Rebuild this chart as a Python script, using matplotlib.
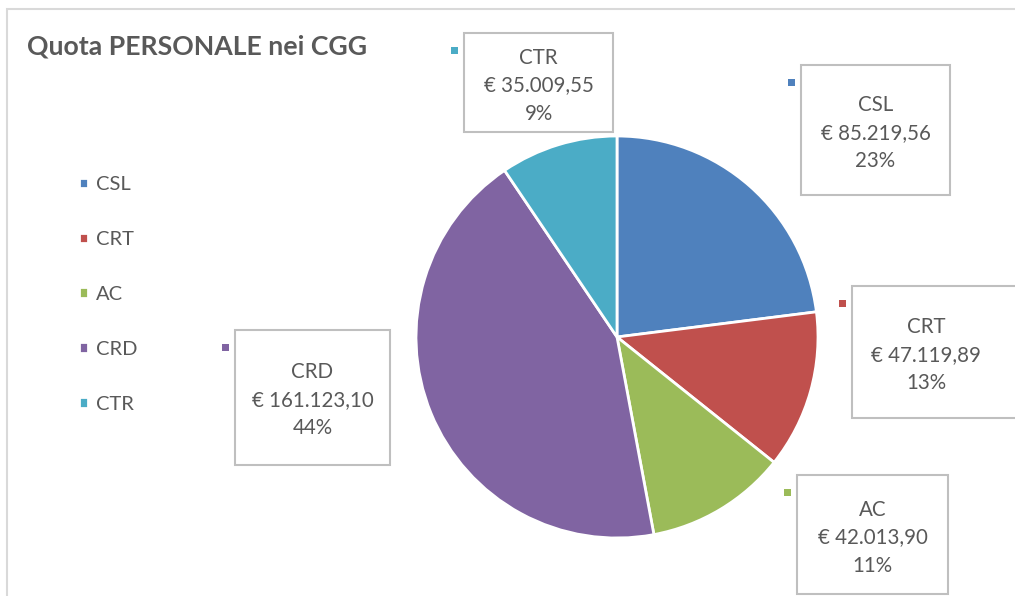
import matplotlib.pyplot as plt
from matplotlib.patches import Rectangle

# dati
categorie = ['CSL', 'CRT', 'AC', 'CRD', 'CTR']
valori = [85219.56, 47119.89, 42013.90, 161123.10, 35009.55]
colori = ['#4F81BD', '#C0504D', '#9BBB59', '#8064A2', '#4BACC6']
titolo = 'Quota PERSONALE nei CGG'

W, H = 1015, 596
GRIGIO = '#595959'
plt.rcParams['font.family'] = ['Lato', 'DejaVu Sans']


def fx(x):
    return x / W


def fy(y):
    return 1 - y / H


def euro(v):
    s = f'{v:,.2f}'.replace(',', 'X').replace('.', ',').replace('X', '.')
    return '€ ' + s


def percentuali(vals):
    # arrotondamento come Excel: la somma fa 100
    tot = sum(vals)
    raw = [v / tot * 100 for v in vals]
    base = [int(p) for p in raw]
    resto = 100 - sum(base)
    ordine = sorted(range(len(raw)), key=lambda i: raw[i] - base[i], reverse=True)
    for i in ordine[:resto]:
        base[i] += 1
    return base


fig = plt.figure(figsize=(W / 100, H / 100), dpi=100)

# cornice del grafico
fig.patches.append(Rectangle((fx(7), fy(700)), fx(1100), fy(9) - fy(700),
                             transform=fig.transFigure, fill=False,
                             edgecolor='#D9D9D9', linewidth=1.5))

fig.text(fx(27), fy(46), titolo, fontsize=19.2, fontweight='bold', color=GRIGIO,
         va='center', ha='left')

# torta: centro (617, 337), raggio 201 px
cx, cy, r = 617, 337, 201
ax = fig.add_axes([fx(cx - r), fy(cy + r), (2 * r) / W, (2 * r) / H])
wedges, _ = ax.pie(valori, colors=colori, startangle=90, counterclock=False,
                   wedgeprops=dict(edgecolor='white', linewidth=2))
ax.set_xlim(-1, 1)
ax.set_ylim(-1, 1)
ax.set_aspect('equal')
ax.axis('off')

# etichette con riquadro: (sinistra, alto, destra, basso) in px
riquadri = [(801, 65, 950, 195),
            (852, 286, 1000, 418),
            (797, 475, 948, 594),
            (235, 330, 390, 465),
            (464, 33, 613, 132)]
perc = percentuali(valori)
for nome, v, p, col, (x0, y0, x1, y1) in zip(categorie, valori, perc, colori, riquadri):
    larg = x1 - x0 if nome != 'CRT' else 200
    fig.patches.append(Rectangle((fx(x0), fy(y1)), larg / W, (y1 - y0) / H,
                                 transform=fig.transFigure, facecolor='white',
                                 edgecolor='#BFBFBF', linewidth=1.5, zorder=3))
    fig.patches.append(Rectangle((fx(x0 - 13), fy(y0 + 21)), 7 / W, 7 / H,
                                 transform=fig.transFigure, facecolor=col,
                                 edgecolor='none', zorder=3))
    testo = f'{nome}\n{euro(v)}\n{p}%'
    fig.text(fx((x0 + x1) / 2), fy((y0 + y1) / 2 + 3), testo, ha='center',
             va='center', fontsize=14.8, color=GRIGIO, linespacing=1.5,
             zorder=4)

# legenda
leg = fig.legend(wedges, categorie, loc='upper left',
                 bbox_to_anchor=(fx(61), fy(158)), frameon=False,
                 fontsize=14.5, handlelength=0.42, handleheight=0.42,
                 handletextpad=0.4, labelspacing=1.88)
for t in leg.get_texts():
    t.set_color(GRIGIO)

fig.savefig('out.png', dpi=100)
